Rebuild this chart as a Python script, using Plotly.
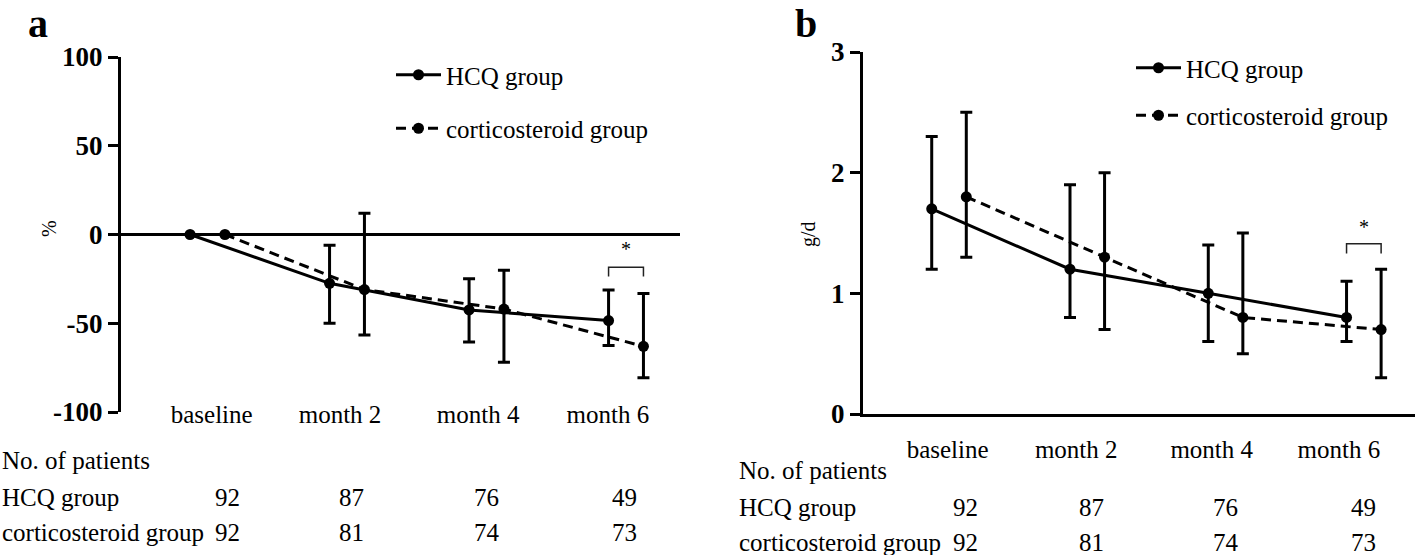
import numpy as np
import plotly.graph_objects as go

# ---------------- data ----------------
categories = ["baseline", "month 2", "month 4", "month 6"]
groups = ["HCQ group", "corticosteroid group"]

# panel a: % change
a_hcq = [0, -27.5, -42.5, -48.5]
a_hcq_up = [0, 21.5, 17.5, 17.3]
a_hcq_dn = [0, 22.5, 18.0, 14.0]
a_cort = [0, -31, -42, -63]
a_cort_up = [0, 43, 21.8, 29.7]
a_cort_dn = [0, 25.6, 30.0, 17.7]
a_ticks = [-100, -50, 0, 50, 100]
a_ticktext = ["-100", "-50", "0", "50", "100"]

# panel b: g/d
b_hcq = [1.7, 1.2, 1.0, 0.8]
b_hcq_up = [0.6, 0.7, 0.4, 0.3]
b_hcq_dn = [0.5, 0.4, 0.4, 0.2]
b_cort = [1.8, 1.3, 0.8, 0.7]
b_cort_up = [0.7, 0.7, 0.7, 0.5]
b_cort_dn = [0.5, 0.6, 0.3, 0.4]
b_ticks = [0, 1, 2, 3]

n_hcq = [92, 87, 76, 49]
n_cort = [92, 81, 74, 73]

sig_index = 3          # month 6 significant
sig_a_level = -18.4
sig_b_level = 1.41

# ---------------- style ----------------
FONT = "Liberation Serif"
TXT = 25
W, H = 1418, 555
OFF = 0.125
idx = np.arange(len(categories))
x_hcq = idx - OFF
x_cort = idx + OFF

fig = go.Figure()

def add_pair(xa, ya, hcq, hu, hd, cort, cu, cd, legend):
    fig.add_trace(go.Scatter(
        x=x_hcq, y=hcq, name=groups[0], mode="lines+markers",
        xaxis=xa, yaxis=ya, legend=legend, legendgroup=legend + "h",
        line=dict(color="black", width=3),
        marker=dict(symbol="circle", size=11, color="black"),
        error_y=dict(type="data", array=hu, arrayminus=hd, color="black",
                     thickness=3, width=6, visible=True),
        cliponaxis=False))
    fig.add_trace(go.Scatter(
        x=x_cort, y=cort, name=groups[1], mode="lines+markers",
        xaxis=xa, yaxis=ya, legend=legend, legendgroup=legend + "c",
        line=dict(color="black", width=3, dash="10px,6px"),
        marker=dict(symbol="circle", size=11, color="black"),
        error_y=dict(type="data", array=cu, arrayminus=cd, color="black",
                     thickness=3, width=6, visible=True),
        cliponaxis=False))

add_pair("x", "y", a_hcq, a_hcq_up, a_hcq_dn, a_cort, a_cort_up, a_cort_dn, "legend")
add_pair("x2", "y2", b_hcq, b_hcq_up, b_hcq_dn, b_cort, b_cort_up, b_cort_dn, "legend2")

def px2x(p):
    return p / W

def py2y(p):
    return 1 - p / H

label_pos_a = [0.03, 0.95, 1.94, 2.87]
label_pos_b = [-0.01, 0.92, 1.90, 2.82]
num_pos_a = [0.14, 1.03, 2.0, 2.99]
num_pos_b = [0.12, 1.03, 2.0, 3.0]

axis_common = dict(showgrid=False, fixedrange=True, automargin=False)

fig.update_layout(
    template="none",
    width=W, height=H,
    margin=dict(l=0, r=0, t=0, b=0, pad=0),
    paper_bgcolor="white", plot_bgcolor="white",
    font=dict(family=FONT, color="black", size=TXT),
    xaxis=dict(domain=[px2x(121), px2x(680)], range=[-0.62, 3.387],
               showline=False, zeroline=False, ticks="",
               tickvals=label_pos_a, ticktext=categories,
               tickfont=dict(family=FONT, size=TXT, color="black"),
               ticklabelstandoff=-15, **axis_common),
    yaxis=dict(domain=[py2y(412), py2y(57)], range=[-100, 100],
               showline=True, linewidth=3, linecolor="black",
               zeroline=True, zerolinewidth=3, zerolinecolor="black",
               ticks="outside", ticklen=10, tickwidth=3, tickcolor="black",
               tickvals=a_ticks, ticktext=a_ticktext,
               tickfont=dict(family=FONT, size=27, weight="bold", color="black"),
               **axis_common),
    xaxis2=dict(domain=[px2x(863), px2x(1415)], range=[-0.622, 3.37],
                anchor="y2", showline=True, linewidth=3, linecolor="black",
                zeroline=False, ticks="",
                tickvals=label_pos_b, ticktext=categories,
                tickfont=dict(family=FONT, size=TXT, color="black"),
                ticklabelstandoff=11, **axis_common),
    yaxis2=dict(domain=[py2y(414), py2y(52)], range=[0, 3], anchor="x2",
                showline=True, linewidth=3, linecolor="black", zeroline=False,
                ticks="outside", ticklen=10, tickwidth=3, tickcolor="black",
                tickvals=b_ticks,
                tickfont=dict(family=FONT, size=27, weight="bold", color="black"),
                **axis_common),
    legend=dict(x=px2x(391), y=py2y(52), xanchor="left", yanchor="top",
                bgcolor="rgba(0,0,0,0)", font=dict(family=FONT, size=TXT, color="black"),
                itemwidth=45, tracegroupgap=18, traceorder="grouped"),
    legend2=dict(x=px2x(1131), y=py2y(45), xanchor="left", yanchor="top",
                 bgcolor="rgba(0,0,0,0)", font=dict(family=FONT, size=TXT, color="black"),
                 itemwidth=45, tracegroupgap=12, traceorder="grouped"),
    showlegend=True,
)

ann = []
blk = dict(family=FONT, color="#000000")
# panel letters
ann.append(dict(text="<b>a</b>", x=px2x(38), y=1, xref="paper", yref="paper",
                xanchor="center", yanchor="top", borderpad=0,
                showarrow=False, font=dict(size=40, **blk)))
ann.append(dict(text="<b>b</b>", x=px2x(806), y=1, xref="paper", yref="paper",
                xanchor="center", yanchor="top", borderpad=0,
                showarrow=False, font=dict(size=40, **blk)))
# y titles
ann.append(dict(text="%", x=px2x(49), y=py2y(229), xref="paper", yref="paper",
                xanchor="center", yanchor="middle",
                showarrow=False, textangle=-90, font=dict(size=20, **blk)))
ann.append(dict(text="g/d", x=px2x(808), y=py2y(234), xref="paper", yref="paper",
                xanchor="center", yanchor="middle",
                showarrow=False, textangle=-90, font=dict(size=20, **blk)))

# patient tables
def table(xref, x0px, rows_px, num_pos):
    labels = ["No. of patients", groups[0], groups[1]]
    for lab, rpx in zip(labels, rows_px):
        ann.append(dict(text=lab, x=px2x(x0px), y=py2y(rpx), xref="paper", yref="paper",
                        xanchor="left", yanchor="middle",
                        showarrow=False, font=dict(size=TXT, **blk)))
    for vals, rpx in ((n_hcq, rows_px[1]), (n_cort, rows_px[2])):
        for p, v in zip(num_pos, vals):
            ann.append(dict(text=str(v), x=p, y=py2y(rpx), xref=xref, yref="paper",
                            xanchor="center", yanchor="middle",
                            showarrow=False, font=dict(size=TXT, **blk)))

table("x", 0, [460, 497, 532], num_pos_a)
table("x2", 737, [470, 507, 542], num_pos_b)

# significance stars
ann.append(dict(text="*", x=sig_index, y=sig_a_level + 3, xref="x", yref="y",
                xanchor="center", yanchor="bottom", showarrow=False,
                font=dict(size=20, **blk)))
ann.append(dict(text="*", x=sig_index, y=sig_b_level + 0.03, xref="x2", yref="y2",
                xanchor="center", yanchor="bottom", showarrow=False,
                font=dict(size=20, **blk)))
fig.update_layout(annotations=ann)

# significance brackets
def bracket(xref, yref, level, drop):
    x0, x1 = sig_index - OFF, sig_index + OFF
    fig.add_shape(type="path", xref=xref, yref=yref,
                  path=f"M {x0} {level - drop} L {x0} {level} L {x1} {level} L {x1} {level - drop}",
                  line=dict(color="#222", width=1.5))

bracket("x", "y", sig_a_level, 5.3)
bracket("x2", "y2", sig_b_level, 0.08)

fig.write_html("out.html", config={"displayModeBar": False},
               post_script="document.body.style.margin='0';document.body.style.overflow='hidden';")
